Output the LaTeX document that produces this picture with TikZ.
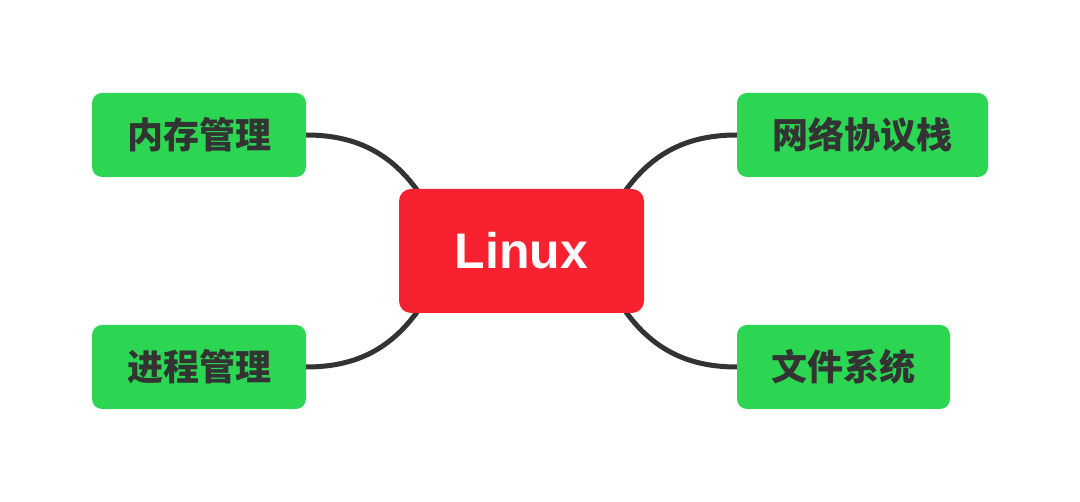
\documentclass[tikz,border=0pt]{standalone}
\usepackage{fontspec}
\setmainfont{Liberation Sans}
\newfontfamily\cjk{Noto Sans CJK SC}
\usetikzlibrary{backgrounds}
\definecolor{leafgreen}{HTML}{2CD652}
\definecolor{rootred}{HTML}{F7212F}
\definecolor{inkgray}{HTML}{333333}
\tikzset{
  leaf/.style={fill=leafgreen, rounded corners=10pt, minimum height=84pt, inner sep=0pt,
    text=inkgray, font=\cjk\bfseries\fontsize{36}{40}\selectfont},
  root/.style={fill=rootred, rounded corners=12pt, minimum width=245pt, minimum height=124pt,
    inner sep=0pt, text=white, font=\bfseries\fontsize{50}{56}\selectfont},
  link/.style={draw=inkgray, line width=5pt}
}
\begin{document}
\begin{tikzpicture}[x=1pt,y=-1pt]
\useasboundingbox (0,0) rectangle (1080,502);
\node[root] (linux) at (521.5,251) {Linux};
\node[leaf, minimum width=214pt] (mem) at (199,135) {内存管理};
\node[leaf, minimum width=214pt] (proc) at (199,367) {进程管理};
\node[leaf, minimum width=251pt] (net) at (862.5,135) {网络协议栈};
\node[leaf, minimum width=213pt] (fs) at (843.5,367) {文件系统};
\begin{pgfonlayer}{background}
\draw[link] (mem.east) .. controls +(52,0) and +(-29,-45) .. ([shift={(25,11)}]linux.north west);
\draw[link] (proc.east) .. controls +(52,0) and +(-29,45) .. ([shift={(25,-11)}]linux.south west);
\draw[link] (net.west) .. controls +(-52,0) and +(29,-45) .. ([shift={(-25,11)}]linux.north east);
\draw[link] (fs.west) .. controls +(-52,0) and +(29,45) .. ([shift={(-25,-11)}]linux.south east);
\end{pgfonlayer}
\end{tikzpicture}
\end{document}
